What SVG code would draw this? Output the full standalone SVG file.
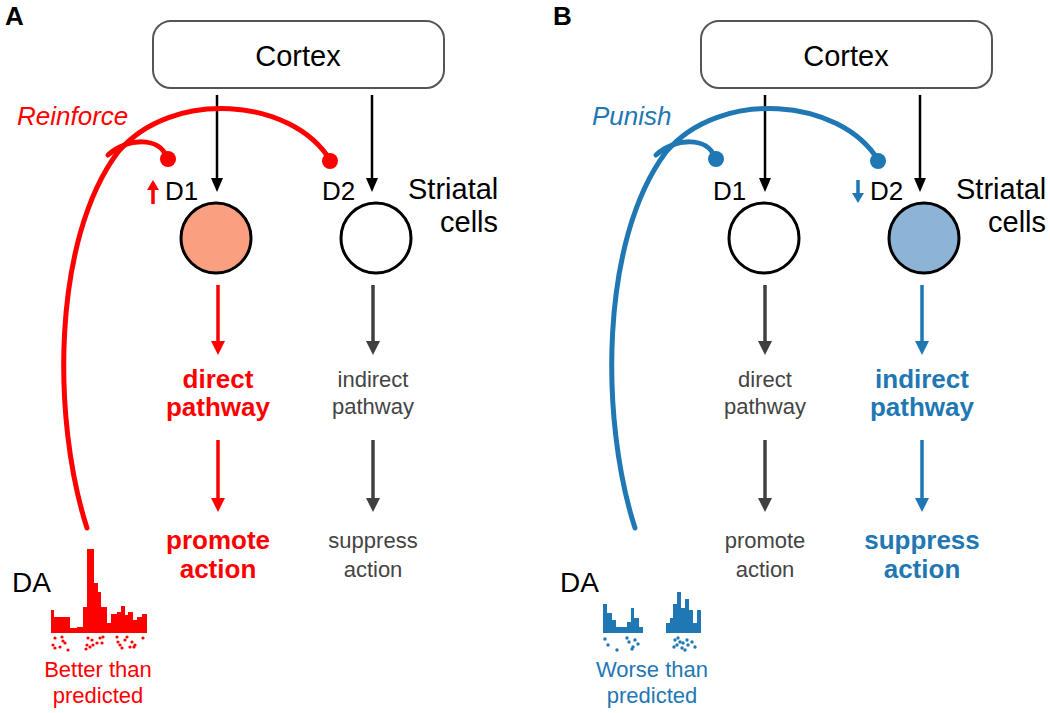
<svg xmlns="http://www.w3.org/2000/svg" width="1050" height="713" viewBox="0 0 1050 713">
<style>
text{font-family:"Liberation Sans",Arial,sans-serif}
.lbl{font-size:26px;fill:#000}
.big{font-size:29px;fill:#000}
.panel{font-size:26px;font-weight:bold;fill:#000}
.ctx{fill:#fff;stroke:#555;stroke-width:2}
.cell{stroke:#000;stroke-width:3}
.blk{stroke:#000;stroke-width:2.5;fill:none}
.gry{stroke:#404040;stroke-width:3.5;fill:none}
.red{stroke:#ff0000;stroke-width:3.5;fill:none}
.blu{stroke:#1f77b4;stroke-width:3.5;fill:none}
.da-r{stroke:#ff0000;stroke-width:5;fill:none;stroke-linecap:round}
.da-b{stroke:#1f77b4;stroke-width:5;fill:none;stroke-linecap:round}
.tg{font-size:22px;fill:#444;text-anchor:middle}
.tr{font-size:26px;fill:#ff0000;font-weight:bold;text-anchor:middle}
.tb{font-size:26px;fill:#1f77b4;font-weight:bold;text-anchor:middle}
.sr{font-size:22px;fill:#ff0000;text-anchor:middle}
.sb{font-size:22px;fill:#1f77b4;text-anchor:middle}
</style>
<defs>
<marker id="hk" markerUnits="userSpaceOnUse" markerWidth="14" markerHeight="12" refX="0" refY="6" orient="auto"><path d="M0,0 L14,6 L0,12 z" fill="#000"/></marker>
<marker id="hg" markerUnits="userSpaceOnUse" markerWidth="14" markerHeight="14" refX="0" refY="7" orient="auto"><path d="M0,0 L14,7 L0,14 z" fill="#404040"/></marker>
<marker id="hr" markerUnits="userSpaceOnUse" markerWidth="14" markerHeight="14" refX="0" refY="7" orient="auto"><path d="M0,0 L14,7 L0,14 z" fill="#ff0000"/></marker>
<marker id="hb" markerUnits="userSpaceOnUse" markerWidth="14" markerHeight="14" refX="0" refY="7" orient="auto"><path d="M0,0 L14,7 L0,14 z" fill="#1f77b4"/></marker>
<marker id="sr" markerUnits="userSpaceOnUse" markerWidth="12" markerHeight="12" refX="0" refY="6" orient="auto"><path d="M0,0 L10,6 L0,12 z" fill="#ff0000"/></marker>
<marker id="sb" markerUnits="userSpaceOnUse" markerWidth="12" markerHeight="12" refX="0" refY="6" orient="auto"><path d="M0,0 L10,6 L0,12 z" fill="#1f77b4"/></marker>
</defs>

<!-- Panel A -->
<text class="panel" x="5" y="25">A</text>
<g id="cortexA"><rect class="ctx" x="153" y="21" width="291" height="67" rx="18"/><text class="big" x="298" y="66" text-anchor="middle">Cortex</text></g>
<g id="d1A"><circle class="cell" cx="216" cy="238" r="35" fill="#fa9f80"/><text class="lbl" x="165" y="200">D1</text></g>
<g id="d2A"><circle class="cell" cx="376" cy="238" r="35" fill="#fff"/><text class="lbl" x="322" y="200">D2</text></g>
<g id="striatalA"><text class="big" x="408" y="199">Striatal</text><text class="big" x="440" y="232">cells</text></g>
<g id="reinforce"><text x="17" y="125" font-size="26" font-style="italic" fill="#ff0000">Reinforce</text></g>
<g id="directA"><text class="tr" x="218" y="388">direct</text><text class="tr" x="218" y="416">pathway</text></g>
<g id="promoteA"><text class="tr" x="218" y="549">promote</text><text class="tr" x="218" y="578">action</text></g>
<g id="indirectA"><text class="tg" x="373" y="387">indirect</text><text class="tg" x="373" y="414">pathway</text></g>
<g id="suppressA"><text class="tg" x="373" y="548">suppress</text><text class="tg" x="373" y="577">action</text></g>
<g id="daA">
<text x="12" y="592" font-size="28">DA</text>
<path fill="#ff0000" d="M51,633 V610 H54 V617 H70 V628 H77 V627 H83 V607 H87 V549 H94 V583 H98 V592 H101 V607 H107 V623 H111 V614 H117 V612 H121 V606 H125 V615 H128 V612 H133 V620 H137 V617 H142 V614 H147 V633 z"/>
<g fill="#ff0000">
<circle cx="55" cy="638" r="1.6"/><circle cx="62" cy="637" r="1.6"/><circle cx="63" cy="641" r="1.6"/><circle cx="53" cy="645" r="1.6"/><circle cx="55" cy="648" r="1.6"/><circle cx="60" cy="647" r="1.6"/><circle cx="68" cy="650" r="1.6"/><circle cx="65" cy="643" r="1.6"/>
<circle cx="88" cy="638" r="1.6"/><circle cx="92" cy="640" r="1.6"/><circle cx="87" cy="645" r="1.6"/><circle cx="90" cy="647" r="1.6"/><circle cx="86" cy="649" r="1.6"/><circle cx="93" cy="645" r="1.6"/><circle cx="100" cy="638" r="1.6"/><circle cx="103" cy="637" r="1.6"/><circle cx="102" cy="643" r="1.6"/><circle cx="97" cy="643" r="1.6"/>
<circle cx="117" cy="637" r="1.6"/><circle cx="118" cy="642" r="1.6"/><circle cx="120" cy="645" r="1.6"/><circle cx="122" cy="648" r="1.6"/><circle cx="125" cy="640" r="1.6"/><circle cx="132" cy="642" r="1.6"/><circle cx="130" cy="647" r="1.6"/><circle cx="134" cy="647" r="1.6"/><circle cx="135" cy="645" r="1.6"/><circle cx="143" cy="638" r="1.6"/><circle cx="127" cy="637" r="1.6"/>
</g>
<text class="sr" x="98" y="677">Better than</text><text class="sr" x="98" y="703">predicted</text>
</g>

<!-- Panel B -->
<text class="panel" x="553" y="25">B</text>
<g id="cortexB"><rect class="ctx" x="701" y="21" width="291" height="67" rx="18"/><text class="big" x="846" y="66" text-anchor="middle">Cortex</text></g>
<g id="d1B"><circle class="cell" cx="764" cy="238" r="35" fill="#fff"/><text class="lbl" x="713" y="200">D1</text></g>
<g id="d2B"><circle class="cell" cx="924" cy="238" r="35" fill="#8db3d6"/><text class="lbl" x="870" y="200">D2</text></g>
<g id="striatalB"><text class="big" x="956" y="199">Striatal</text><text class="big" x="988" y="232">cells</text></g>
<g id="punish"><text x="592" y="125" font-size="26" font-style="italic" fill="#1f77b4">Punish</text></g>
<g id="directB"><text class="tg" x="765" y="387">direct</text><text class="tg" x="765" y="414">pathway</text></g>
<g id="promoteB"><text class="tg" x="765" y="548">promote</text><text class="tg" x="765" y="577">action</text></g>
<g id="indirectB"><text class="tb" x="922" y="388">indirect</text><text class="tb" x="922" y="416">pathway</text></g>
<g id="suppressB"><text class="tb" x="922" y="549">suppress</text><text class="tb" x="922" y="578">action</text></g>
<g id="daB">
<text x="560" y="592" font-size="28">DA</text>
<path fill="#1f77b4" d="M603,633 V604 H607 V613 H612 V620 H616 V627 H627 V622 H631 V608 H634 V618 H639 V627 H643 V633 z"/>
<path fill="#1f77b4" d="M666,633 V623 H670 V618 H673 V604 H677 V592 H681 V608 H685 V599 H689 V610 H693 V623 H697 V610 H701 V633 z"/>
<g fill="#1f77b4">
<circle cx="605" cy="639" r="1.7"/><circle cx="608" cy="645" r="1.7"/><circle cx="617" cy="650" r="1.7"/><circle cx="627" cy="638" r="1.7"/><circle cx="629" cy="642" r="1.7"/><circle cx="633" cy="647" r="1.7"/><circle cx="632" cy="649" r="1.7"/><circle cx="638" cy="644" r="1.7"/><circle cx="635" cy="640" r="1.7"/>
<circle cx="675" cy="640" r="1.7"/><circle cx="678" cy="638" r="1.7"/><circle cx="680" cy="642" r="1.7"/><circle cx="677" cy="645" r="1.7"/><circle cx="674" cy="647" r="1.7"/><circle cx="683" cy="643" r="1.7"/><circle cx="682" cy="648" r="1.7"/><circle cx="687" cy="640" r="1.7"/><circle cx="688" cy="645" r="1.7"/><circle cx="685" cy="650" r="1.7"/><circle cx="695" cy="647" r="1.7"/><circle cx="692" cy="642" r="1.7"/>
</g>
<text class="sb" x="652" y="677">Worse than</text><text class="sb" x="652" y="703">predicted</text>
</g>

<g id="connectors">
<!-- A -->
<line class="blk" x1="217" y1="95" x2="217" y2="178" marker-end="url(#hk)"/>
<line class="blk" x1="372" y1="95" x2="372" y2="178" marker-end="url(#hk)"/>
<line class="red" x1="218" y1="285" x2="218" y2="341" marker-end="url(#hr)"/>
<line class="red" x1="218" y1="440" x2="218" y2="498" marker-end="url(#hr)"/>
<line class="gry" x1="373" y1="285" x2="373" y2="341" marker-end="url(#hg)"/>
<line class="gry" x1="373" y1="440" x2="373" y2="498" marker-end="url(#hg)"/>
<line stroke="#ff0000" stroke-width="3.5" x1="153" y1="204" x2="153" y2="190" marker-end="url(#sr)"/>
<path class="da-r" d="M87,528 C52,420 52,240 118,152 C172,88 292,98 330,160"/>
<path class="da-r" d="M108,155 C127,138 160,136 167,158"/>
<circle cx="168" cy="159" r="8" fill="#ff0000"/>
<circle cx="330" cy="161" r="8" fill="#ff0000"/>
<!-- B -->
<line class="blk" x1="765" y1="95" x2="765" y2="178" marker-end="url(#hk)"/>
<line class="blk" x1="920" y1="95" x2="920" y2="178" marker-end="url(#hk)"/>
<line class="gry" x1="765" y1="285" x2="765" y2="341" marker-end="url(#hg)"/>
<line class="gry" x1="765" y1="440" x2="765" y2="498" marker-end="url(#hg)"/>
<line class="blu" x1="922" y1="285" x2="922" y2="341" marker-end="url(#hb)"/>
<line class="blu" x1="922" y1="440" x2="922" y2="498" marker-end="url(#hb)"/>
<line stroke="#1f77b4" stroke-width="3.5" x1="858" y1="180" x2="858" y2="193" marker-end="url(#sb)"/>
<path class="da-b" d="M635,528 C600,420 600,240 666,152 C720,88 840,98 878,160"/>
<path class="da-b" d="M656,155 C675,138 708,136 715,158"/>
<circle cx="716" cy="159" r="8" fill="#1f77b4"/>
<circle cx="878" cy="161" r="8" fill="#1f77b4"/>
</g>
</svg>
